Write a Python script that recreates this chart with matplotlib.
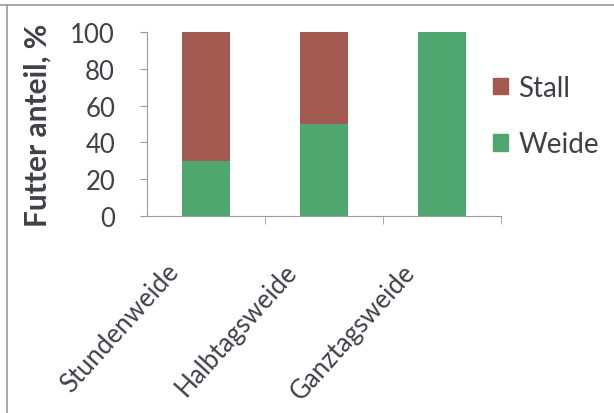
import matplotlib
matplotlib.use("Agg")
import matplotlib.pyplot as plt
from matplotlib.patches import Patch
from matplotlib.lines import Line2D
import matplotlib.transforms as mtransforms
import numpy as np

categories = ["Stundenweide", "Halbtagsweide", "Ganztagsweide"]
weide = [30, 50, 100]
stall = [70, 50, 0]
yticks = [0, 20, 40, 60, 80, 100]

plt.rcParams['font.family'] = ['Lato', 'DejaVu Sans']

c_stall = "#A35B51"
c_weide = "#4FA66E"
axis_col = "#9A9A9A"
text_col = "#404048"

fig = plt.figure(figsize=(6.14, 4.14), dpi=100)
fig.patch.set_facecolor("white")
ax = fig.add_axes([147/614, 1-217/414, (501-147)/614, (217-33)/414])

x = np.arange(len(categories))
ax.bar(x, weide, width=0.4, color=c_weide, label="Weide")
ax.bar(x, stall, width=0.4, bottom=weide, color=c_stall, label="Stall")

ax.set_xlim(-0.5, 2.5)
ax.set_ylim(0, 100)
ax.set_yticks(yticks)
ax.set_yticklabels([str(v) for v in yticks], fontsize=18.5, color=text_col)
ax.tick_params(axis='y', length=5, color=axis_col, pad=18)

ax.set_xticks(x)
ax.set_xticklabels(categories, rotation=48, ha='right', va='top',
                   rotation_mode='default', fontsize=18.5, color=text_col)
ax.tick_params(axis='x', which='major', length=0, pad=31)
offset = mtransforms.ScaledTranslation(-22/100, 0, fig.dpi_scale_trans)
for lbl in ax.get_xticklabels():
    lbl.set_transform(lbl.get_transform() + offset)
ax.set_xticks([0.5, 1.5, 2.5], minor=True)
ax.tick_params(axis='x', which='minor', length=6, color=axis_col)

for s in ['top', 'right']:
    ax.spines[s].set_visible(False)
for s in ['left', 'bottom']:
    ax.spines[s].set_color(axis_col)

ax.set_ylabel("Futter anteil, %", fontsize=21.5, fontweight='bold', color=text_col)
ax.yaxis.set_label_coords(-95/354, 0.5)

handles = [Patch(color=c_stall), Patch(color=c_weide)]
fig.legend(handles, ["Stall", "Weide"], loc='center left',
           bbox_to_anchor=(493/614, 1-117/414), frameon=False, fontsize=20,
           labelcolor=text_col, handlelength=0.54, handleheight=0.54,
           handletextpad=0.38, labelspacing=1.1, borderpad=0, borderaxespad=0)

fig.add_artist(Line2D([0, 1], [1-6/414, 1-6/414], transform=fig.transFigure,
                      color="#999999", linewidth=1.2))
fig.add_artist(Line2D([7/614, 7/614], [0, 1-6/414], transform=fig.transFigure,
                      color="#999999", linewidth=1.2))

fig.savefig("out.png", dpi=100)
